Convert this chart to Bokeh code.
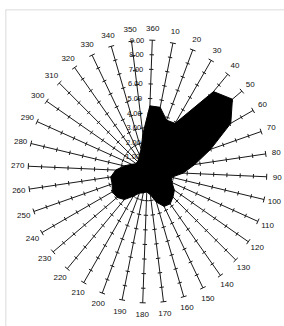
import numpy as np
from bokeh.plotting import figure
from bokeh.models import Range1d, Span
from bokeh.embed import file_html
from bokeh.resources import INLINE
from bokeh.core.properties import value

# ---- data ----
angles = list(range(0, 360, 10))
angle_labels = ["360"] + [str(a) for a in range(10, 360, 10)]
values = [4.5, 4.5, 3.8, 3.9, 7.4, 8.1, 7.1, 5.0, 3.6, 2.7, 1.85, 2.0,
          2.4, 2.6, 2.8, 2.7, 2.2, 1.6, 1.4, 1.5, 1.6, 2.0, 2.6, 2.9,
          3.0, 2.8, 2.8, 2.4, 1.8, 1.3, 1.0, 1.0, 1.1, 1.3, 1.6, 2.6]
r_ticks = [1, 2, 3, 4, 5, 6, 7, 8, 9]
r_tick_labels = ["1.00", "2.00", "3.00", "4.00", "5.00", "6.00", "7.00", "8.00", "9.00"]
R_MAX = 9

# ---- layout / style ----
W, H = 284, 326
BL, BT = 5, 9                  # frame offset (left, top)
FW, FH = W - BL, H - BT        # frame size
SX, SY = 13.25, 14.6           # pixels per radial unit (x, y)
CXP, CYP = 142.0, 162.0        # centre inside the frame, pixels
ROT = 2.3                      # slight rotation of the scanned original (deg)
FONT = value("Liberation Sans")

x0r, x1r = -CXP / SX, (FW - CXP) / SX
y0r, y1r = -(FH - CYP) / SY, CYP / SY

p = figure(width=W, height=H, output_backend="svg", toolbar_location=None,
           x_axis_location=None, y_axis_location=None,
           min_border_left=BL, min_border_top=BT, min_border_right=0, min_border_bottom=0,
           x_range=Range1d(x0r, x1r), y_range=Range1d(y0r, y1r))
p.grid.visible = False
p.outline_line_color = None
p.background_fill_color = "white"
p.border_fill_color = "white"

# light page border only on the left and top, as in the scan
p.add_layout(Span(location=x0r, dimension="height", line_color="#d0d0d0", line_width=1.5))
p.add_layout(Span(location=y1r, dimension="width", line_color="#d0d0d0", line_width=1.5))

ang = np.radians(np.array(angles, dtype=float) + ROT)
s, c = np.sin(ang), np.cos(ang)

# spokes
p.segment(x0=np.zeros_like(s), y0=np.zeros_like(c), x1=R_MAX * s, y1=R_MAX * c,
          line_color="#1a1a1a", line_width=1)

# ticks on spokes (perpendicular in screen space)
tx0, ty0, tx1, ty1 = [], [], [], []
for i in range(len(angles)):
    pxv, pyv = SY * c[i], SX * s[i]
    n = np.hypot(pxv, pyv)
    for r in r_ticks:
        half = 3.0 if r == R_MAX else 2.2
        x, y = r * s[i], r * c[i]
        dx = (pxv / n) * half / SX
        dy = -(pyv / n) * half / SY
        tx0.append(x - dx); ty0.append(y - dy)
        tx1.append(x + dx); ty1.append(y + dy)
p.segment(x0=tx0, y0=ty0, x1=tx1, y1=ty1, line_color="#1a1a1a", line_width=1)

# filled polygon
v = np.array(values)
p.patch(x=list(v * s), y=list(v * c), fill_color="black", line_color="black",
        line_width=1)

# angle labels
LR = 9.8
p.text(x=LR * s, y=LR * c, text=angle_labels, text_font=FONT,
       text_font_size="8px", text_align="center", text_baseline="middle",
       text_color="#111111")

# radial labels along the 0-degree spoke
rt = np.array(r_ticks, dtype=float)
a0 = np.radians(ROT)
p.text(x=rt * np.sin(a0), y=rt * np.cos(a0), text=r_tick_labels, text_font=FONT,
       text_font_size="7.5px", text_align="right", text_baseline="middle",
       x_offset=-8, text_color="#111111")

open("out.html", "w").write(file_html(p, INLINE))
